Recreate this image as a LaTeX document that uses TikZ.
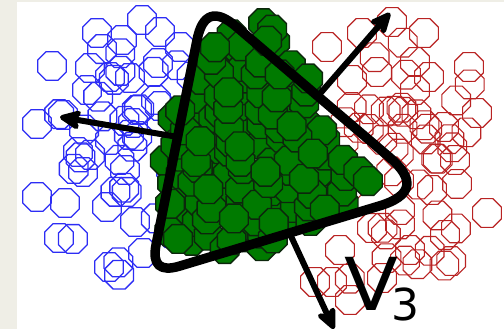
\documentclass[tikz,border=0pt]{standalone}
\usepackage{fontspec}
\newfontfamily\labelfont{DejaVu Sans}
\usetikzlibrary{arrows.meta,calc}

\definecolor{pagebg}{RGB}{239,238,230}
\definecolor{bluepts}{RGB}{45,45,245}
\definecolor{redpts}{RGB}{185,35,35}
\definecolor{greenpts}{RGB}{0,122,0}
\definecolor{greenedge}{RGB}{12,38,12}

% one octagonal marker centred at (#1,#2) drawn with style #3
\newcommand\octo[3]{\path[#3,shift={(#1,#2)}] (22.5:15.5) -- (67.5:15.5) -- (112.5:15.5) -- (157.5:15.5) -- (202.5:15.5) -- (247.5:15.5) -- (292.5:15.5) -- (337.5:15.5) -- cycle;}

\begin{document}
\begin{tikzpicture}[x=1pt,y=-1pt,
  blueoct/.style={draw=bluepts,line width=1.3pt},
  redoct/.style={draw=redpts,line width=1.1pt},
  greenoct/.style={draw=greenedge,fill=greenpts,line width=1.4pt},
  frame/.style={draw=black,line width=9.5pt,line join=round},
  vec/.style={draw=black,line width=6pt,-{Stealth[length=27pt,width=24pt,inset=7pt,round]}},
  lbl/.style={inner sep=0pt,text=black}]

\useasboundingbox (0,0) rectangle (504,329);
\fill[pagebg] (0,0) rectangle (504,329);
\fill[white] (17,2) rectangle (504,329);

\pgfmathsetseed{4242}
\begin{scope}
  \clip (17,2) rectangle (504,329);
  % class 1 (blue, outlined)
  \foreach \px/\py in {142/20,97/33,122/40,160/32,52/66,90/68,130/78,158/63,87/90,156/100,
                       37/124,63/115,133/123,78/152,110/140,37/197,65/203,107/207,59/238,
                       109/267,135/222,143/253,83/172,125/170,110/77,180/47}
    {\octo{\px}{\py}{blueoct}}
  \foreach \n in {1,...,34} {
    \pgfmathsetmacro\bx{115+36*(rand+rand+rand)}
    \pgfmathsetmacro\by{145+60*(rand+rand+rand)}
    \pgfmathtruncatemacro\ok{(\bx>45)*(\by>25)*(\by<280)}
    \ifnum\ok=1 \octo{\bx}{\by}{blueoct}\fi
  }
  % class 2 (red, outlined)
  \foreach \px/\py in {392/22,424/33,327/47,362/33,469/67,477/113,415/62,377/72,352/80,415/90,
                       429/77,444/127,487/213,445/235,432/190,410/250,372/228,332/282,315/282,
                       382/278,400/210,340/250,455/160,350/300}
    {\octo{\px}{\py}{redoct}}
  \foreach \n in {1,...,48} {
    \pgfmathsetmacro\rx{403+36*(rand+rand+rand)}
    \pgfmathsetmacro\ry{162+60*(rand+rand+rand)}
    \pgfmathtruncatemacro\ok{(\rx<470)*(\rx>305)*(\ry>25)*(\ry<300)}
    \ifnum\ok=1 \octo{\rx}{\ry}{redoct}\fi
  }
\end{scope}

% class 3 (green, filled): jittered grid inside the cluster outline, drawn in shuffled order
\foreach \k in {0,...,271} {
  \pgfmathtruncatemacro\idx{mod(\k*59,272)}
  \pgfmathtruncatemacro\ci{mod(\idx,16)}
  \pgfmathtruncatemacro\rj{div(\idx,16)}
  \pgfmathsetmacro\gx{150+16*\ci+7*rand}
  \pgfmathsetmacro\gy{12+16*\rj+7*rand}
  \pgfmathtruncatemacro\ok{(0.54*(\gy-38)+0.20*(\gx-218)>0)*(1.02*(\gy-18)-1.64*(\gx-272)>0)*(-1.09*(\gy-182)-0.78*(\gx-374)>0)*(-(\gy-260)+0.23*(\gx-265)>0)*(-0.03*(\gy-237)+1.02*(\gx-165)>0)*(0.56*(\gy-135)+0.97*(\gx-162)>0)}
  \ifnum\ok=1 \octo{\gx}{\gy}{greenoct}\fi
}

% projection directions
\coordinate (lstart) at (178,137);
\coordinate (ltip) at (60,117);
\coordinate (rstart) at (318,96);
\coordinate (rtip) at (390,13);
\coordinate (bstart) at (290,234);
\coordinate (btip) at (334,329);
\draw[vec] (lstart) -- (ltip);
\draw[vec] (rstart) -- (rtip);
\draw[vec] (bstart) -- (btip);

% rounded triangular frame
\coordinate (T) at (205,0);
\coordinate (R) at (429,191);
\coordinate (L) at (150,275);
\coordinate (t1) at ($(T)!41pt!(R)$);
\coordinate (t2) at ($(T)!41pt!(L)$);
\coordinate (r1) at ($(R)!52pt!(T)$);
\coordinate (r2) at ($(R)!52pt!(L)$);
\coordinate (l1) at ($(L)!31pt!(R)$);
\coordinate (l2) at ($(L)!31pt!(T)$);
\draw[frame] (t1) -- (r1) .. controls ($(r1)!2/3!(R)$) and ($(r2)!2/3!(R)$) .. (r2)
  -- (l1) .. controls ($(l1)!2/3!(L)$) and ($(l2)!2/3!(L)$) .. (l2)
  -- (t2) .. controls ($(t2)!2/3!(T)$) and ($(t1)!2/3!(T)$) .. (t1) -- cycle;

% label
\node[lbl,anchor=base west,font=\labelfont\fontsize{73}{73}\selectfont] (vname) at (344,310) {\scalebox{1.08}[1]{V}};
\node[lbl,anchor=base west,font=\labelfont\fontsize{44}{44}\selectfont] (vsub) at (391,320) {3};
\end{tikzpicture}
\end{document}
